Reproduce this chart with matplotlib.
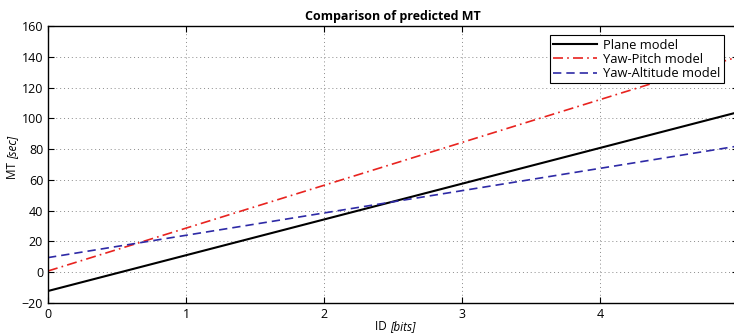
import numpy as np
import matplotlib.pyplot as plt

plt.rcParams['font.family'] = ['Open Sans', 'DejaVu Sans']

# fitted models: MT = a + b * ID
id_range = [0, 5]
plane_mt = [-12.2, 104.0]
pitch_mt = [0.8, 140.0]
altitude_mt = [9.5, 82.0]

fig = plt.figure(figsize=(7.34, 3.36), dpi=100)
ax = fig.add_axes([48 / 734, 33 / 336, 690 / 734, 277 / 336])

ax.plot(id_range, plane_mt, color='black', lw=1.5, label='Plane model')
ax.plot(id_range, pitch_mt, color='#e8231f', lw=1.2, ls=(0, (6, 2.5, 1, 2.5)), label='Yaw-Pitch model')
ax.plot(id_range, altitude_mt, color='#2e2aa6', lw=1.2, ls=(0, (5, 3)), label='Yaw-Altitude model')

ax.set_xlim(0, 5)
ax.set_ylim(-20, 160)
ax.set_xticks(range(0, 6))
ax.set_yticks(range(-20, 161, 20))
ax.grid(True, ls=(0, (1, 3)), color='#8a8a8a', lw=0.7)
ax.tick_params(direction='in', top=True, right=True, labelsize=9, length=4)
for s in ax.spines.values():
    s.set_linewidth(1.0)

ax.set_title('Comparison of predicted MT', fontsize=9, fontweight='bold', pad=4)

# axis labels: name upright, unit in italics, on a shared baseline
ax.text(0.496, -0.098, 'ID ', transform=ax.transAxes, fontsize=8.5,
        ha='right', va='baseline')
ax.text(0.496, -0.098, '[bits]', transform=ax.transAxes, fontsize=8.5,
        style='italic', ha='left', va='baseline')
ax.text(-0.046, 0.52, 'MT ', rotation=90, rotation_mode='anchor', transform=ax.transAxes,
        fontsize=8.5, ha='right', va='baseline')
ax.text(-0.046, 0.52, '[sec]', rotation=90, rotation_mode='anchor', transform=ax.transAxes,
        fontsize=8.5, style='italic', ha='left', va='baseline')

leg = ax.legend(loc='upper right', fontsize=9.3, fancybox=False, framealpha=1,
                edgecolor='black', borderpad=0.25, labelspacing=0.1,
                handlelength=3.4, handletextpad=0.5, borderaxespad=0.4,
                bbox_to_anchor=(0.987, 0.985))
leg.get_frame().set_linewidth(0.8)

fig.savefig('out.png', dpi=100)
